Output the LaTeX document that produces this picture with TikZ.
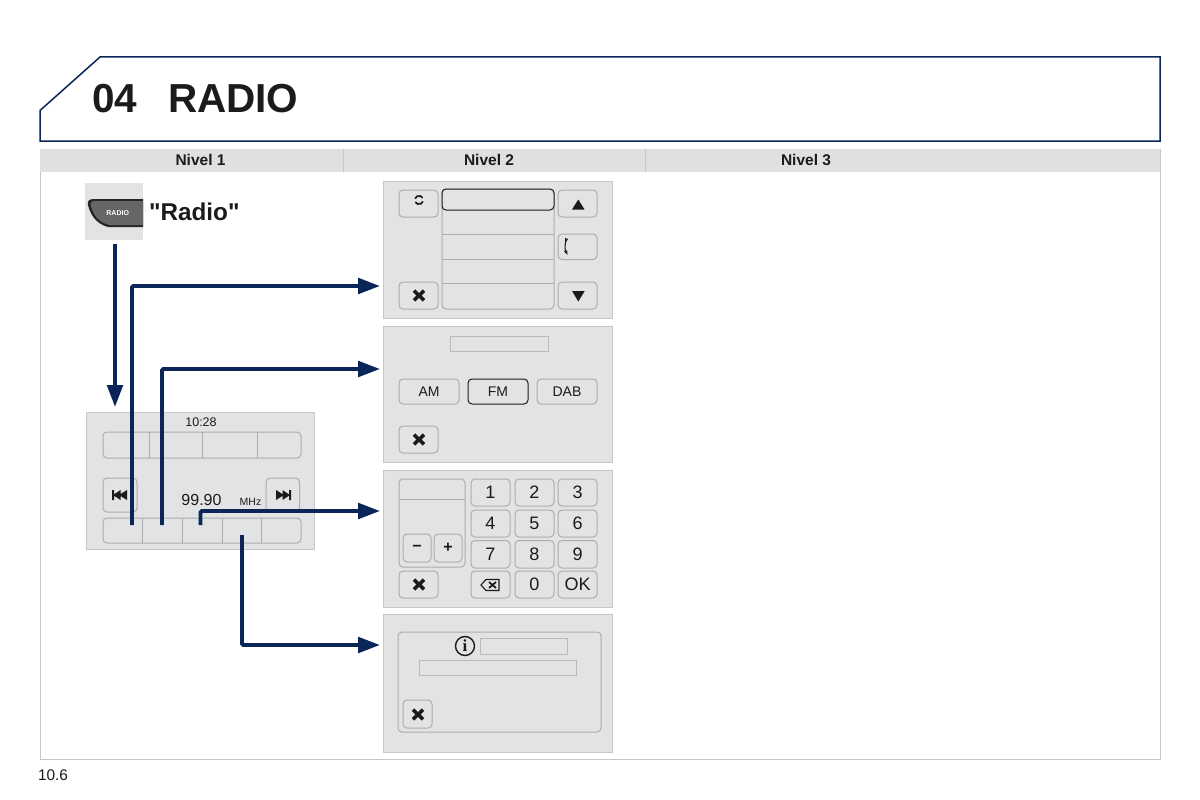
\documentclass[tikz,border=0pt]{standalone}
\usepackage{fontspec}
\setmainfont{Liberation Sans}
\newfontfamily\serifi{Liberation Serif}
\newfontfamily\rawsans{Liberation Sans}
\usetikzlibrary{arrows.meta}
\definecolor{navy}{HTML}{0A2558}
\definecolor{panelfill}{HTML}{E2E3E5}
\definecolor{panelline}{HTML}{C6C7C8}
\definecolor{keyline}{HTML}{ABADAD}
\definecolor{fieldline}{HTML}{B8B9BA}
\definecolor{ink}{HTML}{1C1A1B}
\definecolor{tablehead}{HTML}{DFE0E2}
\tikzset{
  panelbox/.style={draw=panelline,fill=panelfill,line width=1pt,inner sep=0pt,outer sep=0pt},
  keybox/.style={draw=keyline,fill=panelfill,line width=1pt,rounded corners=4pt,inner sep=0pt,outer sep=0pt,text=ink},
  fieldbox/.style={draw=fieldline,fill=panelfill,line width=1pt,inner sep=0pt,outer sep=0pt},
  activebox/.style={draw=ink,fill=panelfill,line width=1pt,rounded corners=4pt,inner sep=0pt,outer sep=0pt,text=ink},
  flow/.style={draw=navy,line width=3.9pt,rounded corners=1.5pt,-{Triangle[length=22pt,width=15.5pt]}},
  label/.style={inner sep=0pt,outer sep=0pt,text=ink},
  crossmark/.style={draw=ink,line width=3.6pt},
  solidmark/.style={fill=ink,draw=none},
  thinmark/.style={draw=ink,line width=1.1pt}
}
% \bx{style}{name}{x1}{y1}{x2}{y2}{text}
\newcommand\bx[7]{\node[#1,minimum width={(#5-#3)*1pt},minimum height={(#6-#4)*1pt}] (#2) at ({(#3+#5)/2},{(#4+#6)/2}) {#7};}
\newcommand\xmark[2]{\draw[crossmark] (#1-5,#2-4.8) -- (#1+5,#2+4.8) (#1-5,#2+4.8) -- (#1+5,#2-4.8);}
\begin{document}
\begin{tikzpicture}[x=1pt,y=-1pt]
\useasboundingbox (0,0) rectangle (1200,800);
% header
\draw[navy,line width=1.5pt] (100,57) -- (1160,57) -- (1160,141) -- (40,141) -- (40,110.5) -- cycle;
\node[label,anchor=base west,font=\bfseries\fontsize{40.5}{41}\selectfont] (num) at (92,113) {04};
\node[label,anchor=base west,font=\bfseries\fontsize{40.5}{41}\selectfont] (title) at (168,113) {RADIO};
% table
\draw[panelline,line width=1pt] (40,149) rectangle (1160,759);
\fill[tablehead] (40,149) rectangle (1160,172);
\draw[panelline,line width=.8pt] (343,149) -- (343,172) (645,149) -- (645,172);
\node[label,font=\bfseries\fontsize{15.5}{16}\selectfont] (n1) at (200.5,160) {Nivel 1};
\node[label,font=\bfseries\fontsize{15.5}{16}\selectfont] (n2) at (489,160) {Nivel 2};
\node[label,font=\bfseries\fontsize{15.5}{16}\selectfont] (n3) at (806,160) {Nivel 3};
\node[label,anchor=base west,font=\fontsize{15.4}{16}\selectfont] (pg) at (38,780) {10.6};
% radio button icon
\fill[panelfill] (85,183) rectangle (143,240);
\fill[black!85] (143,199) -- (94,199) .. controls (89,199) and (87,201) .. (88,205) .. controls (90,214) and (96,224) .. (108,227) -- (143,227) -- cycle;
\fill[black!60] (143,201) -- (95,201) .. controls (91,201) and (90,203) .. (91,206) .. controls (93,214) and (98,222) .. (109,225) -- (143,225) -- cycle;
\node[inner sep=0pt,text=white,font=\bfseries\fontsize{7}{8}\selectfont] (rb) at (117.7,213.5) {RADIO};
\node[label,anchor=base west,font=\rawsans\bfseries\fontsize{24.3}{26}\selectfont] (rl) at (149,220) {"Radio"};
% main panel
\bx{panelbox}{main}{86}{412}{314.5}{549}{}
\bx{keybox}{topbar}{103}{432}{301}{458}{}
\draw[keyline,line width=1pt] (149.5,432) -- (149.5,458) (202.5,432) -- (202.5,458) (257.5,432) -- (257.5,458);
\bx{keybox}{prev}{103}{478}{137}{512}{}
\bx{keybox}{next}{266}{478}{299.5}{512}{}
\fill[ink] (112,490) rectangle (114,500) (127,490) -- (119,495) -- (127,500) -- cycle (120.5,490) -- (113,495) -- (120.5,500) -- cycle;
\fill[ink] (291,490) rectangle (289,500) (276,490) -- (284,495) -- (276,500) -- cycle (282.5,490) -- (290,495) -- (282.5,500) -- cycle;
\bx{keybox}{botbar}{103}{518}{301}{543}{}
\draw[keyline,line width=1pt] (142,518) -- (142,543) (182,518) -- (182,543) (222,518) -- (222,543) (261.5,518) -- (261.5,543);
\node[label,font=\fontsize{12.5}{14}\selectfont] (time) at (201,422.5) {10:28};
\node[label,anchor=base,font=\fontsize{16}{18}\selectfont] (freq) at (201.5,505.5) {99.90};
\node[label,anchor=base,font=\fontsize{10.5}{12}\selectfont] (mhz) at (250.5,505.5) {MHz};
% panel 1
\bx{panelbox}{p1}{383}{181}{612}{318}{}
\bx{keybox}{refresh}{399}{190}{438}{217}{}
\bx{keybox}{up}{558}{190}{597}{217}{}
\bx{keybox}{swap}{558}{234}{597}{259.5}{}
\bx{keybox}{close1}{399}{282}{438}{309}{}
\bx{keybox}{down}{558}{282}{597}{309}{}
\bx{keybox}{list}{442}{189}{554}{309}{}
\draw[keyline,line width=1pt] (442,234) -- (554,234) (442,259) -- (554,259) (442,283) -- (554,283);
\bx{activebox}{sel}{442}{189}{554}{210}{}
\draw[ink,line width=1.7pt] (419,200) ++(20:4.2) arc (20:150:4.2);
\draw[ink,line width=1.7pt] (419,200) ++(200:4.2) arc (200:330:4.2);
\path[solidmark] (578.3,199.5) -- (584.5,209.5) -- (572,209.5) -- cycle;
\path[solidmark] (578.3,301.5) -- (584.7,291) -- (572,291) -- cycle;
\draw[thinmark] (566,240) .. controls (565,245) and (564.5,248) .. (566,253);
\path[solidmark] (565,238) -- (568,239) -- (565.3,243) -- cycle (564,251) -- (567.3,250.5) -- (567.5,255) -- cycle;
\xmark{419}{295.5}
% panel 2
\bx{panelbox}{p2}{383}{326}{612}{462}{}
\bx{fieldbox}{lab2}{450}{336}{548}{351}{}
\bx{keybox,font=\fontsize{14}{16}\selectfont}{am}{399}{379}{459}{404}{AM}
\bx{activebox,font=\fontsize{14}{16}\selectfont}{fm}{468}{379}{528}{404}{FM}
\bx{keybox,font=\fontsize{14}{16}\selectfont}{dab}{537}{379}{597}{404}{DAB}
\bx{keybox}{close2}{399}{426}{438}{453}{}
\xmark{419}{439.5}
% panel 3
\bx{panelbox}{p3}{383}{470}{612}{607.5}{}
\bx{keybox}{group}{399}{479}{465}{567}{}
\draw[keyline,line width=1pt] (399,499) -- (465,499);
\bx{keybox,font=\bfseries\fontsize{16}{18}\selectfont}{minus}{403}{534}{431}{562}{−}
\bx{keybox,font=\bfseries\fontsize{16}{18}\selectfont}{plus}{434}{534}{462}{562}{+}
\tikzset{digit/.style={keybox,font=\fontsize{18}{20}\selectfont}}
\bx{digit}{k1}{471}{479}{510}{506}{1}
\bx{digit}{k2}{515}{479}{554}{506}{2}
\bx{digit}{k3}{558}{479}{597}{506}{3}
\bx{digit}{k4}{471}{510}{510}{537}{4}
\bx{digit}{k5}{515}{510}{554}{537}{5}
\bx{digit}{k6}{558}{510}{597}{537}{6}
\bx{digit}{k7}{471}{540.5}{510}{568}{7}
\bx{digit}{k8}{515}{540.5}{554}{568}{8}
\bx{digit}{k9}{558}{540.5}{597}{568}{9}
\bx{keybox}{close3}{399}{571}{438}{598}{}
\bx{keybox}{back}{471}{571}{510}{598}{}
\bx{digit}{k0}{515}{571}{554}{598}{0}
\bx{digit}{ok}{558}{571}{597}{598}{OK}
\xmark{419}{584.5}
\draw[thinmark] (481,585) -- (486,579.5) -- (499,579.5) -- (499,590.5) -- (486,590.5) -- cycle;
\draw[ink,line width=1.7pt] (489,582) -- (496,588) (489,588) -- (496,582);
% panel 4
\bx{panelbox}{p4}{383}{614.5}{612}{752}{}
\bx{keybox}{inner}{398}{632}{601}{732}{}
\bx{fieldbox}{lab4a}{480}{638}{567}{654}{}
\bx{fieldbox}{lab4b}{419}{660}{576}{675}{}
\node[draw=ink,line width=1.4pt,circle,minimum size=19pt,inner sep=0pt,text=ink,font=\serifi\bfseries\fontsize{17}{18}\selectfont] (info) at (465,646) {i};
\bx{keybox}{close4}{403}{700}{432}{728}{}
\xmark{418}{714.5}
% connectors
\coordinate (srcA) at (115,244);
\coordinate (dstA) at (115,407);
\coordinate (srcB) at (132,525);
\coordinate (dstB) at (380,286);
\coordinate (srcC) at (162,525);
\coordinate (dstC) at (380,369);
\coordinate (srcD) at (200.5,525);
\coordinate (dstD) at (380,511);
\coordinate (srcE) at (242,535);
\coordinate (dstE) at (380,645);
\draw[flow] (srcA) -- (dstA);
\draw[flow] (srcB) |- (dstB);
\draw[flow] (srcC) |- (dstC);
\draw[flow] (srcD) |- (dstD);
\draw[flow] (srcE) |- (dstE);
\end{tikzpicture}
\end{document}
